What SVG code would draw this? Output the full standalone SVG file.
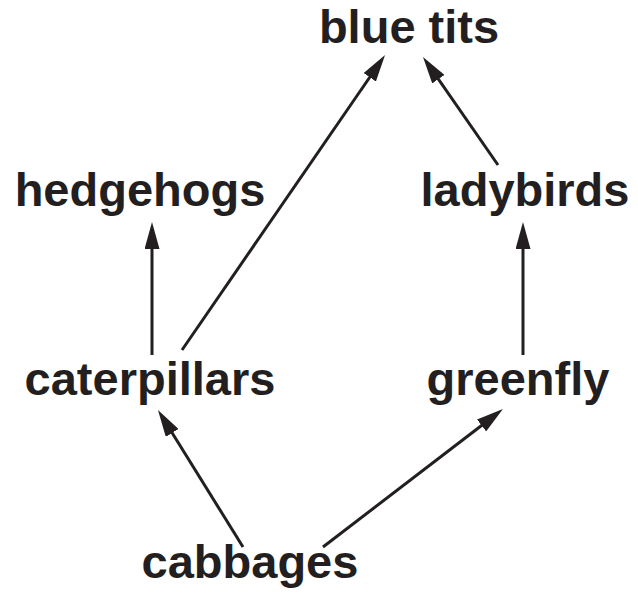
<svg xmlns="http://www.w3.org/2000/svg" width="638" height="596" viewBox="0 0 638 596">
  <style>
    .label { font-family: "Liberation Sans", Arial, Helvetica, sans-serif; font-weight: bold; font-size: 47px; fill: #231f20; text-anchor: middle; }
    .link { stroke: #231f20; stroke-width: 3; fill: none; marker-end: url(#head); }
  </style>
  <defs>
    <marker id="head" markerUnits="userSpaceOnUse" viewBox="0 0 27 15" markerWidth="27" markerHeight="15" refX="7" refY="7.5" orient="auto">
      <path d="M0,0 L27,7.5 L0,15 z" fill="#231f20"/>
    </marker>
  </defs>
  <rect width="638" height="596" fill="#ffffff"/>

  <!-- feeding links (food -> feeder) -->
  <g id="connectors">
    <line class="link" x1="152" y1="355" x2="152" y2="242"/>
    <line class="link" x1="182" y1="350" x2="373.7" y2="71.5"/>
    <line class="link" x1="498" y1="165" x2="434.4" y2="73.4"/>
    <line class="link" x1="523" y1="355" x2="523" y2="242"/>
    <line class="link" x1="243" y1="547" x2="168.5" y2="427"/>
    <line class="link" x1="323" y1="547" x2="487.1" y2="421.2"/>
  </g>

  <g id="blue-tits"><text class="label" x="409" y="43">blue tits</text></g>
  <g id="hedgehogs"><text class="label" x="140" y="206">hedgehogs</text></g>
  <g id="ladybirds"><text class="label" x="525" y="206">ladybirds</text></g>
  <g id="caterpillars"><text class="label" x="150" y="395">caterpillars</text></g>
  <g id="greenfly"><text class="label" x="518" y="395">greenfly</text></g>
  <g id="cabbages"><text class="label" x="250" y="578">cabbages</text></g>
</svg>
